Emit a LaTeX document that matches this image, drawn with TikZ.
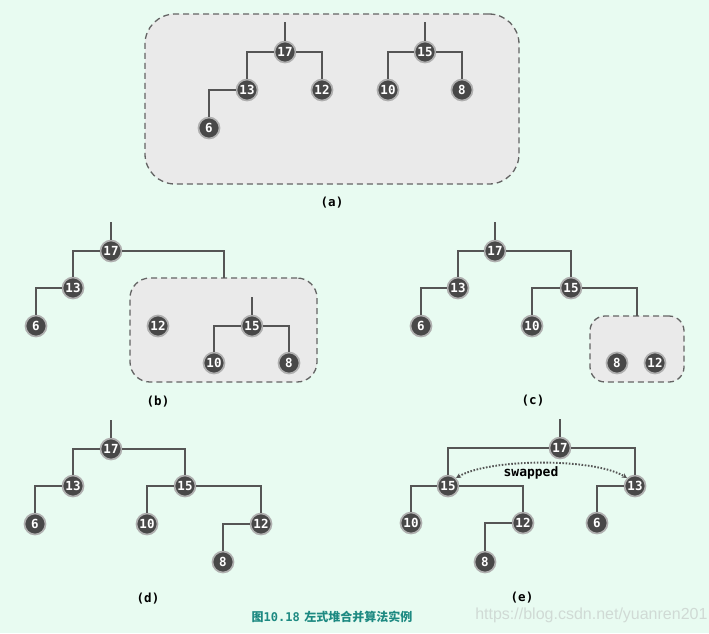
\documentclass[tikz,border=0pt]{standalone}
\usepackage{fontspec}
\newfontfamily\monof{DejaVu Sans Mono}
\newfontfamily\cjkf{Noto Sans CJK SC}
\newfontfamily\wmf{Liberation Sans}
\usetikzlibrary{arrows.meta}
\definecolor{bgc}{RGB}{232,251,241}
\definecolor{ndfill}{RGB}{72,72,72}
\definecolor{ndring}{RGB}{175,175,175}
\definecolor{edgec}{RGB}{85,85,85}
\definecolor{boxfill}{RGB}{234,234,234}
\definecolor{boxline}{RGB}{100,100,100}
\definecolor{capc}{RGB}{30,138,130}
\definecolor{wmc}{RGB}{208,218,213}
\begin{document}
\begin{tikzpicture}[x=1pt,y=-1pt,
  nd/.style={circle, fill=ndfill, draw=ndring, line width=1.7pt, minimum size=21pt, inner sep=0pt, text=white, font=\monof\bfseries\fontsize{12.5}{13}\selectfont},
  edge/.style={draw=edgec, line width=2.7pt, line join=miter},
  box/.style={draw=boxline, fill=boxfill, dash pattern=on 6pt off 4pt, line width=1.3pt, inner sep=0pt},
  lbl/.style={font=\monof\bfseries\fontsize{12.5}{14}\selectfont, text=black},
  swp/.style={draw=edgec, line width=1.9pt, dash pattern=on 1.6pt off 1.6pt, {Stealth[length=5pt,width=5pt]}-{Stealth[length=5pt,width=5pt]}}
]
\fill[bgc] (0,0) rectangle (709,633);
\useasboundingbox (0,0) rectangle (709,633);

% ---------- (a)
\node[box, minimum width=374pt, minimum height=170pt, rounded corners=30pt] (abox) at (332,99) {};
\node[nd] (a17) at (285,52) {17};
\node[nd] (a13) at (247,90) {13};
\node[nd] (a12) at (322,90) {12};
\node[nd] (a6) at (209,128) {6};
\node[nd] (a15) at (425,52) {15};
\node[nd] (a10) at (388,90) {10};
\node[nd] (a8) at (462,90) {8};
\draw[edge] (a17) -- ++(0,-30);
\draw[edge] (a17) -| (a13);
\draw[edge] (a17) -| (a12);
\draw[edge] (a13) -| (a6);
\draw[edge] (a15) -- ++(0,-30);
\draw[edge] (a15) -| (a10);
\draw[edge] (a15) -| (a8);
\node[lbl] (la) at (332,203) {(a)};

% ---------- (b)
\node[box, minimum width=187pt, minimum height=104pt, rounded corners=20pt] (bbox) at (223.5,330) {};
\coordinate (btop) at (224,278);
\node[nd] (b17) at (111,251) {17};
\node[nd] (b13) at (73,288) {13};
\node[nd] (b6) at (36,326) {6};
\node[nd] (b12) at (158,326) {12};
\node[nd] (b15) at (252,326) {15};
\node[nd] (b10) at (214,363) {10};
\node[nd] (b8) at (289,363) {8};
\draw[edge] (b17) -- ++(0,-29);
\draw[edge] (b17) -| (btop);
\draw[edge] (b13) -| (b6);
\draw[edge] (b17) -| (b13);
\draw[edge] (b15) -- ++(0,-29);
\draw[edge] (b15) -| (b10);
\draw[edge] (b15) -| (b8);
\node[lbl] (lb) at (158,402) {(b)};

% ---------- (c)
\node[box, minimum width=94pt, minimum height=66pt, rounded corners=15pt] (cbox) at (637,349) {};
\coordinate (ctop) at (637,316);
\node[nd] (c17) at (495,251) {17};
\node[nd] (c13) at (458,288) {13};
\node[nd] (c6) at (421,326) {6};
\node[nd] (c15) at (571,288) {15};
\node[nd] (c10) at (532,326) {10};
\node[nd] (c8) at (617,363) {8};
\node[nd] (c12) at (655,363) {12};
\draw[edge] (c17) -- ++(0,-29);
\draw[edge] (c17) -| (c13);
\draw[edge] (c17) -| (c15);
\draw[edge] (c13) -| (c6);
\draw[edge] (c15) -| (c10);
\draw[edge] (c15) -| (ctop);
\node[lbl] (lc) at (533,401) {(c)};

% ---------- (d)
\node[nd] (d17) at (111,449) {17};
\node[nd] (d13) at (73,486) {13};
\node[nd] (d6) at (35,524) {6};
\node[nd] (d15) at (185,486) {15};
\node[nd] (d10) at (147,524) {10};
\node[nd] (d12) at (261,524) {12};
\node[nd] (d8) at (223,562) {8};
\draw[edge] (d17) -- ++(0,-29);
\draw[edge] (d17) -| (d13);
\draw[edge] (d17) -| (d15);
\draw[edge] (d13) -| (d6);
\draw[edge] (d15) -| (d10);
\draw[edge] (d15) -| (d12);
\draw[edge] (d12) -| (d8);
\node[lbl] (ld) at (148,599) {(d)};

% ---------- (e)
\node[nd] (e17) at (560,448) {17};
\node[nd] (e15) at (448,486) {15};
\node[nd] (e13) at (635,486) {13};
\node[nd] (e10) at (411,523) {10};
\node[nd] (e12) at (523,523) {12};
\node[nd] (e6) at (597,523) {6};
\node[nd] (e8) at (485,562) {8};
\draw[edge] (e17) -- ++(0,-29);
\draw[edge] (e17) -| (e15);
\draw[edge] (e17) -| (e13);
\draw[edge] (e15) -| (e10);
\draw[edge] (e15) -| (e12);
\draw[edge] (e12) -| (e8);
\draw[edge] (e13) -| (e6);
\draw[swp] (e15.north east) .. controls (490,458) and (595,458) .. (e13.north west);
\node[lbl, font=\monof\bfseries\fontsize{13}{14}\selectfont] (sw) at (531,473) {swapped};
\node[lbl] (le) at (522,598) {(e)};

% ---------- caption & watermark
\node[text=wmc, font=\wmf\fontsize{16}{17}\selectfont, anchor=east] (wm) at (711,615) {https://blog.csdn.net/yuanren201};
\node[text=capc, font=\bfseries\fontsize{12}{14}\selectfont] (cap) at (332,617) {{\cjkf 图}{\monof 10.18} {\cjkf 左式堆合并算法实例}};
\end{tikzpicture}
\end{document}
